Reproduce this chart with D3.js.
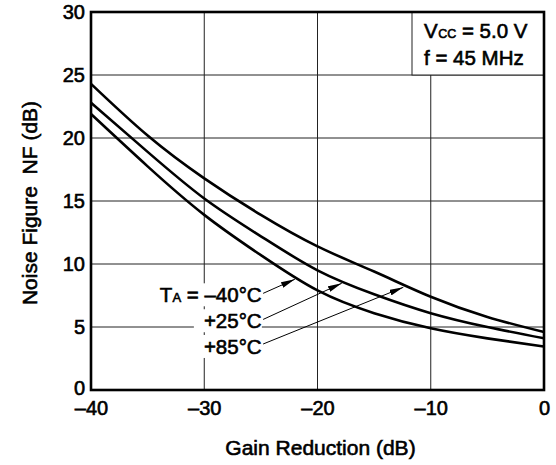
<!DOCTYPE html>
<html>
<head>
<meta charset="utf-8">
<script src="https://cdn.jsdelivr.net/npm/d3@7"></script>
<style>
  html, body { margin: 0; padding: 0; background: #fff; }
  svg text { font-family: "Liberation Sans", Arial, Helvetica, sans-serif; fill: #000; stroke: #000; stroke-width: 0.6px; }
</style>
</head>
<body>
<div id="chart"></div>
<script>
// Gain reduction (dB) sample points
const gainReduction = [-40, -35, -30, -25, -20, -15, -10, -5, 0];
// Noise figure (dB) per ambient temperature
const nfMinus40 = [21.9, 17.75, 13.9, 10.7, 7.9, 6.1, 4.9, 4.1, 3.45];
const nfPlus25  = [22.8, 18.9, 15.2, 12.2, 9.5, 7.6, 6.1, 5.0, 4.1];
const nfPlus85  = [24.3, 20.2, 16.8, 13.9, 11.4, 9.4, 7.4, 5.8, 4.6];

const xTicks = [-40, -30, -20, -10, 0];
const yTicks = [0, 5, 10, 15, 20, 25, 30];

// label text + arrow, in data units
const labels = [
  { prefix: true,  text: '\u201340\u00b0C', tx: -24.93, ty: 6.96, from: [-24.8, 7.67], to: [-22.0, 8.79] },
  { prefix: false, text: '+25\u00b0C',      tx: -24.93, ty: 4.9,  from: [-24.8, 5.6],  to: [-17.86, 8.47] },
  { prefix: false, text: '+85\u00b0C',      tx: -24.93, ty: 2.86, from: [-24.8, 3.65], to: [-12.42, 8.15] }
];

const series = [nfMinus40, nfPlus25, nfPlus85];

const W = 556, H = 465;
const margin = { left: 91, top: 12, right: 12, bottom: 75 };
const innerW = W - margin.left - margin.right;
const innerH = H - margin.top - margin.bottom;

const svg = d3.select('#chart').append('svg')
    .attr('width', W).attr('height', H);

const defs = svg.append('defs');
defs.append('marker')
    .attr('id', 'arrow')
    .attr('viewBox', '0 0 14 6')
    .attr('refX', 14).attr('refY', 3)
    .attr('markerUnits', 'userSpaceOnUse')
    .attr('markerWidth', 14).attr('markerHeight', 6)
    .attr('orient', 'auto')
  .append('path')
    .attr('d', 'M0,0 L14,3 L0,6 Z')
    .attr('fill', '#000');

const g = svg.append('g')
    .attr('transform', `translate(${margin.left},${margin.top})`);

const x = d3.scaleLinear().domain([-40, 0]).range([0, innerW]);
const y = d3.scaleLinear().domain([0, 30]).range([innerH, 0]);

// grid
g.append('g').selectAll('line')
  .data(xTicks.slice(1, -1))
  .join('line')
    .attr('x1', d => x(d)).attr('x2', d => x(d))
    .attr('y1', 0).attr('y2', innerH)
    .attr('stroke', '#222').attr('stroke-width', 1);

g.append('g').selectAll('line')
  .data(yTicks.slice(1, -1))
  .join('line')
    .attr('x1', 0).attr('x2', innerW)
    .attr('y1', d => y(d)).attr('y2', d => y(d))
    .attr('stroke', '#222').attr('stroke-width', 1);

// conditions box (top right)
const boxLeft = innerW - 132;
g.append('rect')
    .attr('x', boxLeft).attr('y', 0)
    .attr('width', innerW - boxLeft).attr('height', y(25))
    .attr('fill', '#fff').attr('stroke', '#222').attr('stroke-width', 1);

const t1 = g.append('text')
    .attr('x', boxLeft + 12).attr('y', 25.5)
    .style('font-size', '20.5px');
t1.append('tspan').text('V');
t1.append('tspan').text('CC').style('font-size', '12.5px').attr('dx', 0.5);
t1.append('tspan').text(' = 5.0 V');

g.append('text')
    .attr('x', boxLeft + 12).attr('y', 53)
    .style('font-size', '20.5px')
    .text('f = 45 MHz');

// curves
const line = d3.line()
    .x((d, i) => x(gainReduction[i]))
    .y(d => y(d))
    .curve(d3.curveNatural);

g.append('g').selectAll('path')
  .data(series)
  .join('path')
    .attr('d', line)
    .attr('fill', 'none')
    .attr('stroke', '#000')
    .attr('stroke-width', 2.6);

// temperature labels with white background
const lab = g.append('g');
labels.forEach(l => {
  const t = lab.append('text')
      .attr('x', x(l.tx)).attr('y', y(l.ty))
      .attr('text-anchor', 'end')
      .style('font-size', '20.5px');
  if (l.prefix) {
    t.append('tspan').text('T');
    t.append('tspan').text('A').style('font-size', '13px');
    t.append('tspan').text(' = ');
  }
  t.append('tspan').text(l.text);
  const bb = t.node().getBBox();
  const padX = l.prefix ? 3 : 10;
  lab.insert('rect', 'text')
      .attr('x', bb.x - padX).attr('y', bb.y)
      .attr('width', bb.width + padX).attr('height', bb.height)
      .attr('fill', '#fff');
  lab.append('line')
      .attr('x1', x(l.from[0])).attr('y1', y(l.from[1]))
      .attr('x2', x(l.to[0])).attr('y2', y(l.to[1]))
      .attr('stroke', '#000').attr('stroke-width', 1)
      .attr('marker-end', 'url(#arrow)');
});

// frame
g.append('rect')
    .attr('x', 0).attr('y', 0)
    .attr('width', innerW).attr('height', innerH)
    .attr('fill', 'none').attr('stroke', '#000').attr('stroke-width', 2.6);

// axes labels
const fmt = d => (d < 0 ? '\u2013' + Math.abs(d) : String(d));

const xAxis = g.append('g')
    .attr('transform', `translate(0,${innerH})`)
    .call(d3.axisBottom(x).tickValues(xTicks).tickSize(0).tickPadding(11).tickFormat(fmt));
xAxis.select('.domain').remove();
xAxis.selectAll('text').style('font-size', '20px').attr('dy', '0.71em');

const yAxis = g.append('g')
    .call(d3.axisLeft(y).tickValues(yTicks).tickSize(0).tickPadding(6).tickFormat(fmt));
yAxis.select('.domain').remove();
yAxis.selectAll('text').style('font-size', '20px');
yAxis.selectAll('.tick').filter(d => d === 0).select('text').attr('dy', '0.2em');

svg.append('text')
    .attr('x', margin.left + innerW / 2 + 3).attr('y', 455)
    .attr('text-anchor', 'middle')
    .style('font-size', '21px')
    .text('Gain Reduction (dB)');

svg.append('text')
    .attr('transform', `translate(37,${margin.top + innerH / 2 + 2}) rotate(-90)`)
    .attr('text-anchor', 'middle')
    .style('font-size', '21px')
    .style('white-space', 'pre')
    .text('Noise Figure  NF (dB)');
</script>
</body>
</html>
